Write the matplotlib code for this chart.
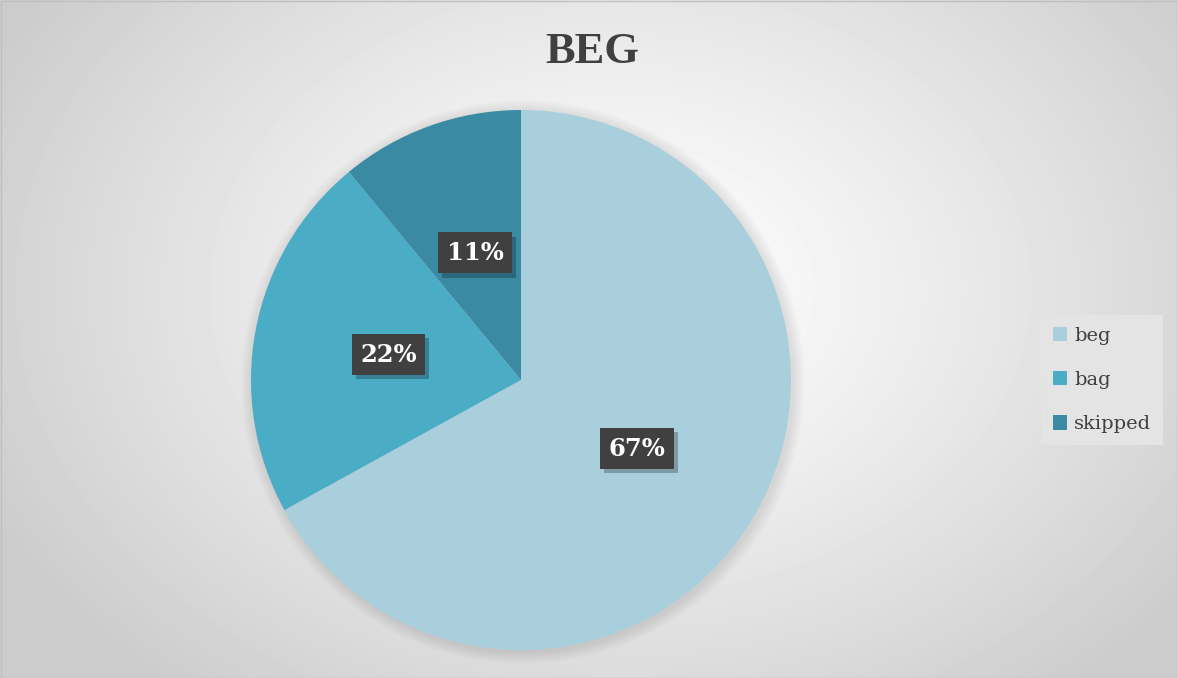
import numpy as np
import matplotlib.pyplot as plt
import matplotlib.patheffects as pe
from matplotlib.patches import Circle, Rectangle

# data
categories = ['beg', 'bag', 'skipped']
shares = [67, 22, 11]
colors = ['#A9CFDD', '#4BACC6', '#3A8AA3']
title = 'BEG'

W, H = 1177, 678
fig = plt.figure(figsize=(W / 100, H / 100), dpi=100)
ax = fig.add_axes([0, 0, 1, 1])

# radial gradient background
yy, xx = np.mgrid[0:H, 0:W]
cx, cy = 620, H - 290
r = np.sqrt(((xx - cx) / 700.0) ** 2 + ((yy - cy) / 520.0) ** 2)
shade = 1.0 - 0.2 * np.clip(r, 0, 1) ** 1.2
ax.imshow(shade, cmap='gray', vmin=0, vmax=1, extent=(0, W, 0, H),
          origin='lower', zorder=0, aspect='auto')
ax.add_patch(Rectangle((0.5, 0.5), W - 1, H - 1, fill=False,
                       edgecolor='#bfbfbf', lw=1, zorder=1))

# pie geometry (pixels)
center = (521, H - 380)
radius = 270

# soft shadow behind the pie
for i in range(12):
    ax.add_patch(Circle((center[0] + 2, center[1] - 2), radius + 12 - i,
                        color='#000000', alpha=0.007, lw=0, zorder=2))

wedges, texts, autotexts = ax.pie(
    shares, colors=colors, startangle=90, counterclock=False,
    center=center, radius=radius, autopct='%.0f%%', pctdistance=0.5,
    frame=True, wedgeprops=dict(linewidth=0, zorder=3),
    textprops=dict(color='white', fontsize=17.5, fontweight='bold',
                   family='DejaVu Serif'))
ax.set_xlim(0, W)
ax.set_ylim(0, H)
ax.axis('off')

for t in autotexts:
    t.set_zorder(5)
    t.set_bbox(dict(boxstyle='square,pad=0.35', fc='#404040', ec='none'))
    t.get_bbox_patch().set_path_effects([
        pe.SimplePatchShadow(offset=(3, -3), shadow_rgbFace='#000000',
                             alpha=0.25),
        pe.Normal()])

ax.text(592, H - 52, title, ha='center', va='center', fontsize=32,
        fontweight='bold', family='Liberation Serif', color='#404040',
        zorder=5)

leg = ax.legend(wedges, categories, loc='center left',
                bbox_to_anchor=(1041 / W, 1 - 380 / H), frameon=True,
                fancybox=False, edgecolor='none', facecolor='#e4e4e4',
                framealpha=1, handlelength=0.75, handleheight=0.75,
                handletextpad=0.35, labelspacing=1.35, borderpad=0.6,
                borderaxespad=0,
                prop=dict(family='DejaVu Serif', size=14))
for txt in leg.get_texts():
    txt.set_color('#404040')

fig.savefig('out.png', dpi=100)
